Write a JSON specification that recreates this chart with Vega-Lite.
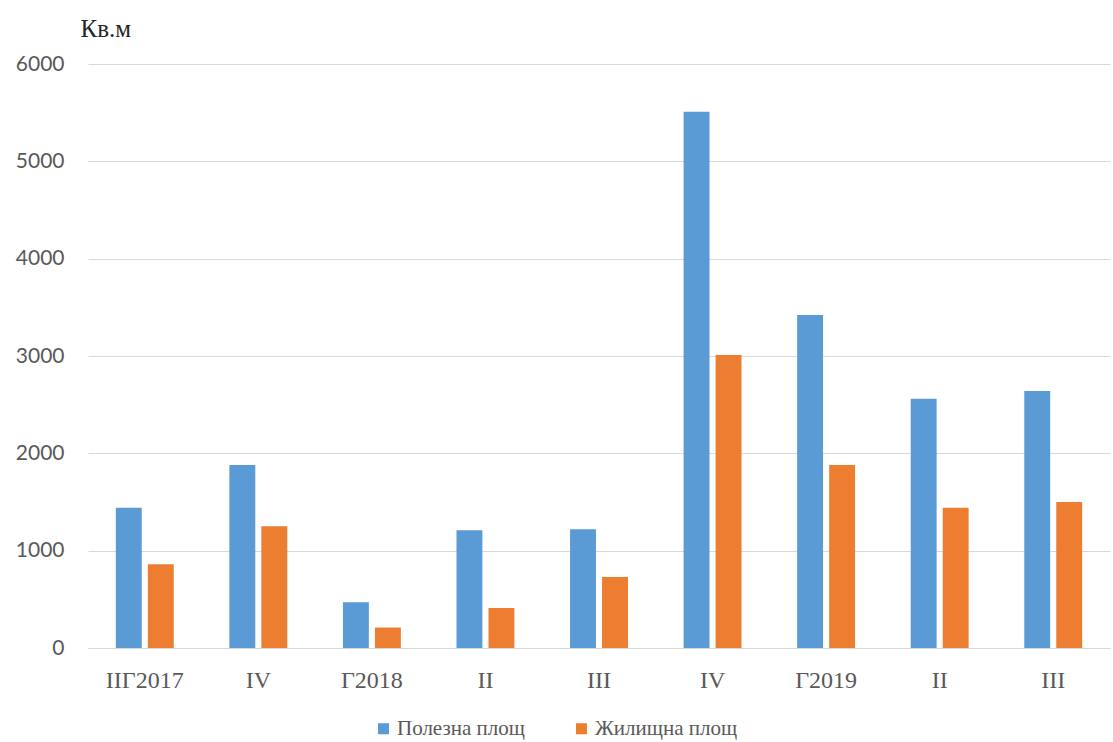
{
  "$schema": "https://vega.github.io/schema/vega-lite/v6.json",
  "width": 1022,
  "height": 584,
  "autosize": {"type": "none"},
  "padding": {"left": 88, "top": 64, "right": 3, "bottom": 94},
  "background": "white",
  "data": {
    "values": [
      {"cat": "ІІГ2017", "series": "Полезна площ", "value": 1440},
      {"cat": "ІІГ2017", "series": "Жилищна площ", "value": 860},
      {"cat": "IV", "series": "Полезна площ", "value": 1880},
      {"cat": "IV", "series": "Жилищна площ", "value": 1250},
      {"cat": "Г2018", "series": "Полезна площ", "value": 470},
      {"cat": "Г2018", "series": "Жилищна площ", "value": 210},
      {"cat": "II", "series": "Полезна площ", "value": 1210},
      {"cat": "II", "series": "Жилищна площ", "value": 410},
      {"cat": "III", "series": "Полезна площ", "value": 1220},
      {"cat": "III", "series": "Жилищна площ", "value": 730},
      {"cat": "IV#2", "series": "Полезна площ", "value": 5510},
      {"cat": "IV#2", "series": "Жилищна площ", "value": 3010},
      {"cat": "Г2019", "series": "Полезна площ", "value": 3420},
      {"cat": "Г2019", "series": "Жилищна площ", "value": 1880},
      {"cat": "II#2", "series": "Полезна площ", "value": 2560},
      {"cat": "II#2", "series": "Жилищна площ", "value": 1440},
      {"cat": "III#2", "series": "Полезна площ", "value": 2640},
      {"cat": "III#2", "series": "Жилищна площ", "value": 1500}
    ]
  },
  "mark": {"type": "bar"},
  "encoding": {
    "x": {
      "field": "cat",
      "type": "nominal",
      "sort": null,
      "scale": {"paddingInner": 0.49, "paddingOuter": 0.245},
      "axis": {
        "title": null,
        "labelAngle": 0,
        "labelExpr": "split(datum.label, '#')[0]",
        "labelFont": "Liberation Serif",
        "labelFontSize": 24,
        "labelFontStyle": "normal",
        "labelColor": "#595959",
        "labelPadding": 20,
        "ticks": false,
        "domain": true,
        "domainColor": "#d9d9d9",
        "domainWidth": 1
      }
    },
    "xOffset": {
      "field": "series",
      "type": "nominal",
      "sort": ["Полезна площ", "Жилищна площ"],
      "scale": {"paddingInner": 0.19}
    },
    "y": {
      "field": "value",
      "type": "quantitative",
      "scale": {"domain": [0, 6000], "nice": false},
      "axis": {
        "values": [0, 1000, 2000, 3000, 4000, 5000, 6000],
        "format": "d",
        "title": "Кв.м",
        "titleAngle": 0,
        "titleX": -8,
        "titleY": -36,
        "titleAlign": "left",
        "titleBaseline": "middle",
        "titleFont": "Liberation Serif",
        "titleFontSize": 25,
        "titleFontWeight": "normal",
        "titleColor": "#262626",
        "labelFont": "Lato",
        "labelFontSize": 21,
        "labelColor": "#595959",
        "labelPadding": 24,
        "ticks": false,
        "domain": false,
        "grid": true,
        "gridColor": "#d9d9d9",
        "gridWidth": 1
      }
    },
    "color": {
      "field": "series",
      "type": "nominal",
      "scale": {
        "domain": ["Полезна площ", "Жилищна площ"],
        "range": ["#5B9BD5", "#ED7D31"]
      },
      "legend": {
        "title": null,
        "orient": "none",
        "direction": "horizontal",
        "legendX": 285,
        "legendY": 654,
        "symbolType": "square",
        "symbolSize": 121,
        "symbolStrokeWidth": 0,
        "labelFont": "Liberation Serif",
        "labelFontSize": 21,
        "labelFontStyle": "normal",
        "labelColor": "#595959",
        "labelOffset": 3,
        "columnPadding": 46
      }
    }
  },
  "config": {
    "view": {"stroke": null}
  }
}
